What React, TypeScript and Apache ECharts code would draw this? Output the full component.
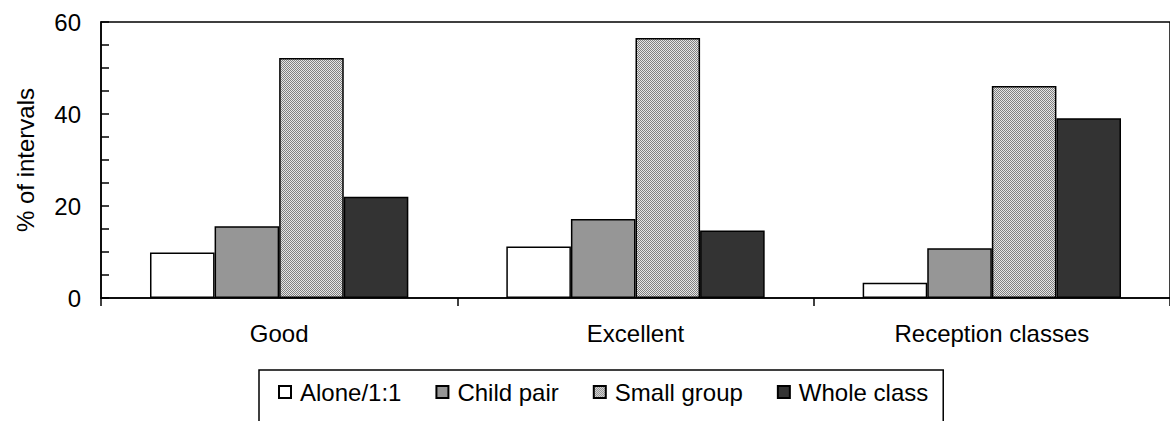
import React, { useEffect, useRef } from "react";
import * as echarts from "echarts";

const categories = ["Good", "Excellent", "Reception classes"];
const seriesNames = ["Alone/1:1", "Child pair", "Small group", "Whole class"];
const alone = [9.9, 11.2, 3.3];
const childPair = [15.6, 17.2, 10.8];
const smallGroup = [52.2, 56.5, 46.1];
const wholeClass = [22.0, 14.7, 39.1];
const yTicks = [0, 20, 40, 60];

const FONT = "Liberation Sans, Arial, sans-serif";

function makeChecker() {
  const c = document.createElement("canvas");
  c.width = 2;
  c.height = 2;
  const ctx = c.getContext("2d")!;
  ctx.fillStyle = "#e6e6e6";
  ctx.fillRect(0, 0, 2, 2);
  ctx.fillStyle = "#808080";
  ctx.fillRect(0, 0, 1, 1);
  ctx.fillRect(1, 1, 1, 1);
  return c;
}

export default function App() {
  const ref = useRef<HTMLDivElement>(null);
  useEffect(() => {
    document.body.style.margin = "0";
    const chart = echarts.init(ref.current!, null, { renderer: "svg" });
    const checker = makeChecker();
    const fills: any[] = [
      "#ffffff",
      "#969696",
      { image: checker, repeat: "repeat", imageWidth: 2, imageHeight: 2 },
      "#333333",
    ];
    const data = [alone, childPair, smallGroup, wholeClass];
    chart.setOption({
      animation: false,
      textStyle: { fontFamily: FONT, color: "#000" },
      grid: {
        left: 101,
        top: 22,
        width: 1071,
        height: 276,
        show: true,
        borderColor: "#000",
        borderWidth: 1.5,
        backgroundColor: "transparent",
      },
      legend: {
        left: 259,
        top: 370,
        data: seriesNames,
        icon: "rect",
        itemWidth: 12,
        itemHeight: 12,
        itemGap: 34,
        padding: [10, 15, 40, 19],
        borderColor: "#000",
        borderWidth: 1.5,
        textStyle: { fontSize: 24, color: "#000", fontFamily: FONT, padding: [0, 0, 0, 4] },
      },
      xAxis: {
        type: "category",
        data: categories,
        axisLine: { lineStyle: { color: "#000", width: 1.5 } },
        axisTick: { show: true, length: 8, lineStyle: { color: "#000", width: 1.5 } },
        axisLabel: { fontSize: 24, color: "#000", margin: 23, fontFamily: FONT },
        splitLine: { show: false },
      },
      yAxis: {
        type: "value",
        min: yTicks[0],
        max: yTicks[yTicks.length - 1],
        interval: 20,
        name: "% of intervals",
        nameLocation: "middle",
        nameRotate: 90,
        nameGap: 64,
        nameTextStyle: { fontSize: 24, color: "#000", fontFamily: FONT },
        axisLine: { show: true, lineStyle: { color: "#000", width: 1.5 } },
        axisTick: { show: true, inside: true, length: 8, lineStyle: { color: "#000", width: 1.5 } },
        minorTick: { show: true, splitNumber: 4, length: 8, lineStyle: { color: "#000", width: 1.5 } },
        axisLabel: { fontSize: 24, color: "#000", margin: 20, fontFamily: FONT },
        splitLine: { show: false },
      },
      series: seriesNames.map((name, i) => ({
        name,
        type: "bar",
        data: data[i],
        barGap: "0%",
        barCategoryGap: "27.5%",
        itemStyle: { color: fills[i], borderColor: "#000", borderWidth: 1.5 },
      })),
    });
    return () => chart.dispose();
  }, []);
  return <div ref={ref} style={{ width: 1170, height: 421 }} />;
}
